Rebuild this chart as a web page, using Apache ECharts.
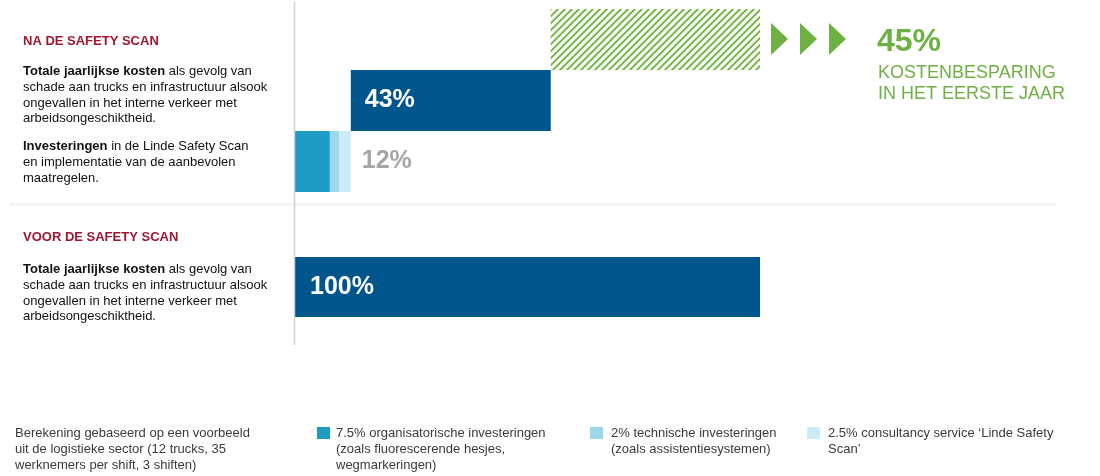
<!DOCTYPE html>
<html>
<head>
<meta charset="utf-8">
<script src="https://cdn.jsdelivr.net/npm/echarts@6/dist/echarts.min.js"></script>
<style>
html,body{margin:0;padding:0;background:#fff;}
#chart{width:1100px;height:476px;}
</style>
</head>
<body>
<div id="chart"></div>
<script>
// ---- Data ----
const rowsAfter = ['Kostenbesparing', 'Kosten na scan', 'Investeringen'];
const rowsBefore = ['Kosten voor scan'];
const investNames = [
  '7.5% organisatorische investeringen\n(zoals fluorescerende hesjes,\nwegmarkeringen)',
  '2% technische investeringen\n(zoals assistentiesystemen)',
  '2.5% consultancy service \u2018Linde Safety\nScan\u2019'
];
const investValues = [7.5, 2, 2.5];
const costsAfter = 43;
const savings = 45;
const costsBefore = 100;

// ---- Styles ----
const FONT = '"Liberation Sans", Arial, sans-serif';
const investColors = ['#1f9cc6', '#9dd7ec', '#cdebf5'];
const darkBlue = '#00558c';
const green = '#6fb043';
const red = '#a1162f';

const investTotal = investValues.reduce((a, b) => a + b, 0);
const offsets = [investTotal + costsAfter, investTotal, 0];

// hatch pattern
const pc = document.createElement('canvas');
pc.width = 7; pc.height = 7;
const ctx = pc.getContext('2d');
ctx.fillStyle = '#f8fbf3'; ctx.fillRect(0, 0, 7, 7);
ctx.strokeStyle = green; ctx.lineWidth = 1.8;
ctx.beginPath();
ctx.moveTo(-1, 8); ctx.lineTo(8, -1);
ctx.moveTo(-1, 1); ctx.lineTo(1, -1);
ctx.moveTo(6, 8); ctx.lineTo(8, 6);
ctx.stroke();

const chart = echarts.init(document.getElementById('chart'), null, {renderer: 'canvas'});

const valueLabel = (color, dist, pos) => ({
  show: true, position: pos, distance: dist, color: color,
  fontFamily: FONT, fontWeight: 'bold', fontSize: 25
});

const series = [];
series.push({
  type: 'bar', name: 'offset', stack: 'a', xAxisIndex: 0, yAxisIndex: 0,
  data: offsets, itemStyle: {color: 'rgba(0,0,0,0)'}, silent: true, barCategoryGap: 0
});
investValues.forEach((v, i) => {
  const s = {
    type: 'bar', name: investNames[i], stack: 'a', xAxisIndex: 0, yAxisIndex: 0,
    data: ['-', '-', v], itemStyle: {color: investColors[i]}, barCategoryGap: 0
  };
  if (i === investValues.length - 1) {
    s.label = Object.assign(valueLabel('#a6a6a6', 11, 'right'), {formatter: () => investTotal + '%'});
  }
  series.push(s);
});
series.push({
  type: 'bar', name: 'Kosten na', stack: 'a', xAxisIndex: 0, yAxisIndex: 0,
  data: ['-', costsAfter, '-'], itemStyle: {color: darkBlue}, barCategoryGap: 0,
  label: Object.assign(valueLabel('#ffffff', 14, 'insideLeft'), {formatter: '{c}%'})
});
series.push({
  type: 'bar', name: 'Besparing', stack: 'a', xAxisIndex: 0, yAxisIndex: 0,
  data: [savings, '-', '-'], itemStyle: {color: {image: pc, repeat: 'repeat'}}, barCategoryGap: 0
});
series.push({
  type: 'bar', name: 'Kosten voor', xAxisIndex: 1, yAxisIndex: 1,
  data: [costsBefore], itemStyle: {color: darkBlue}, barCategoryGap: 0,
  label: Object.assign(valueLabel('#ffffff', 15, 'insideLeft'), {formatter: '{c}%'})
});

const graphics = [];
// axis line & separator
graphics.push({type: 'line', shape: {x1: 294.5, y1: 2, x2: 294.5, y2: 345}, style: {stroke: '#cfcfcf', lineWidth: 1.5}, z: 10});
graphics.push({type: 'line', shape: {x1: 10, y1: 204.5, x2: 1056, y2: 204.5}, style: {stroke: '#f0f0f0', lineWidth: 2}});

// arrows
[771, 800, 829].forEach(x => {
  graphics.push({type: 'polygon', shape: {points: [[x, 23], [x + 17, 39], [x, 55]]}, style: {fill: green}});
});

// savings text
graphics.push({type: 'text', x: 877, y: 42, style: {text: savings + '%', font: 'bold 32px ' + FONT, fill: green, textVerticalAlign: 'middle'}});
graphics.push({type: 'text', x: 878, y: 63, style: {text: 'KOSTENBESPARING\nIN HET EERSTE JAAR', font: '18px ' + FONT, fill: green, lineHeight: 20.5, textVerticalAlign: 'top'}});

// left texts
const rich = {b: {fontWeight: 'bold', fontSize: 13, fontFamily: FONT, color: '#111', lineHeight: 15.6}, n: {fontSize: 13, fontFamily: FONT, color: '#111', lineHeight: 15.6}};
function para(x, y, txt) {
  graphics.push({type: 'text', x: x, y: y, style: {text: txt, rich: rich, fontSize: 13, fontFamily: FONT, fill: '#111', lineHeight: 15.6, verticalAlign: 'top'}});
}
function title(x, y, txt) {
  graphics.push({type: 'text', x: x, y: y, style: {text: txt, font: 'bold 13px ' + FONT, fill: red, verticalAlign: 'middle'}});
}
title(23, 41, 'NA DE SAFETY SCAN');
para(23, 64, '{b|Totale jaarlijkse kosten}{n| als gevolg van}\n{n|schade aan trucks en infrastructuur alsook}\n{n|ongevallen in het interne verkeer met}\n{n|arbeidsongeschiktheid.}');
para(23, 139, '{b|Investeringen}{n| in de Linde Safety Scan}\n{n|en implementatie van de aanbevolen}\n{n|maatregelen.}');
title(23, 237, 'VOOR DE SAFETY SCAN');
para(23, 262, '{b|Totale jaarlijkse kosten}{n| als gevolg van}\n{n|schade aan trucks en infrastructuur alsook}\n{n|ongevallen in het interne verkeer met}\n{n|arbeidsongeschiktheid.}');

// footer
const footColor = '#3a3a3a';
graphics.push({type: 'text', x: 15, y: 425, style: {text: 'Berekening gebaseerd op een voorbeeld\nuit de logistieke sector (12 trucks, 35\nwerknemers per shift, 3 shiften)', font: '13px ' + FONT, fill: footColor, lineHeight: 16, verticalAlign: 'top'}});
const legX = [317, 590, 807];
const legTextX = [336, 611, 828];
investNames.forEach((n, i) => {
  graphics.push({type: 'rect', shape: {x: legX[i], y: 427, width: 13, height: 12}, style: {fill: investColors[i]}});
  graphics.push({type: 'text', x: legTextX[i], y: 425, style: {text: n, font: '13px ' + FONT, fill: footColor, lineHeight: 16, verticalAlign: 'top'}});
});

chart.setOption({
  animation: false,
  backgroundColor: '#ffffff',
  grid: [
    {left: 295, width: 465, top: 9, height: 183},
    {left: 295, width: 465, top: 257, height: 60}
  ],
  xAxis: [
    {type: 'value', gridIndex: 0, min: 0, max: 100, show: false},
    {type: 'value', gridIndex: 1, min: 0, max: 100, show: false}
  ],
  yAxis: [
    {type: 'category', gridIndex: 0, data: rowsAfter, inverse: true, show: false},
    {type: 'category', gridIndex: 1, data: rowsBefore, show: false}
  ],
  series: series,
  graphic: graphics
});
</script>
</body>
</html>
